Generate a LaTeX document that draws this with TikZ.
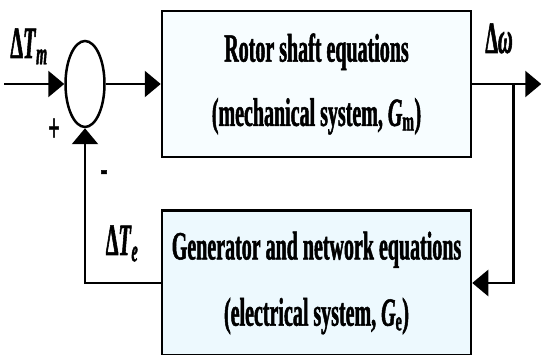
\documentclass[tikz,border=0pt]{standalone}
\usepackage{fontspec}
\newfontfamily\boxfont[FakeStretch=0.5, FakeBold=1.2]{Liberation Serif}
\newfontfamily\signalfont[FakeStretch=0.45, FakeBold=1.2]{Liberation Serif}
\usetikzlibrary{arrows.meta, positioning, shapes.geometric}

\begin{document}
\begin{tikzpicture}[
  x=1pt, y=-1pt,
  block/.style={draw, line width=2.5pt, minimum width=309pt,
                align=center, inner sep=0pt,
                font=\boxfont\bfseries\fontsize{40}{32}\selectfont},
  junction/.style={draw, ellipse, line width=2.5pt, minimum width=39pt,
                   minimum height=86pt, inner sep=0pt},
  arrow/.style={-{Triangle[length=16pt, width=26pt]}, line width=2.5pt},
  sig/.style={anchor=base, inner sep=0pt,
              font=\signalfont\bfseries\fontsize{45}{45}\selectfont},
  sgn/.style={font=\boxfont\bfseries\fontsize{40}{40}\selectfont}
]

\useasboundingbox (0,0) rectangle (541,355);

\node[block, fill=cyan!3, minimum height=146pt] (rotor) at (316.5,84)
  {Rotor shaft equations\\[27pt](mechanical system, \textit{G}\textsubscript{m})};

\node[block, fill=cyan!7, minimum height=145pt, below=51pt of rotor] (network)
  {Generator and network equations\\[29pt](electrical system, \textit{G}\textsubscript{e})};

\node[junction, left=55pt of rotor] (sum) {};

\coordinate[left=60pt of sum.west] (source);
\coordinate[right=41pt of rotor.east] (branch);
\coordinate[right=69pt of rotor.east] (output);

\draw[arrow] (source) -- (sum);
\draw[arrow] (sum) -- (rotor);
\draw[arrow] (rotor) -- (output);
\draw[arrow] (branch) |- (network);
\draw[arrow] (network) -| (sum);

% signal names and signs
\node[sig] (dTm) at (29,58) {Δ\textit{T}\textsubscript{\textit{m}}};
\node[sig] (dw) at (499,53) {Δ\textit{ω}};
\node[sig] (dTe) at (122,255) {Δ\textit{T}\textsubscript{\textit{e}}};
\node[sgn] (plus) at (54,130) {+};
\node[sgn] (minus) at (104,176) {-};

\end{tikzpicture}
\end{document}
